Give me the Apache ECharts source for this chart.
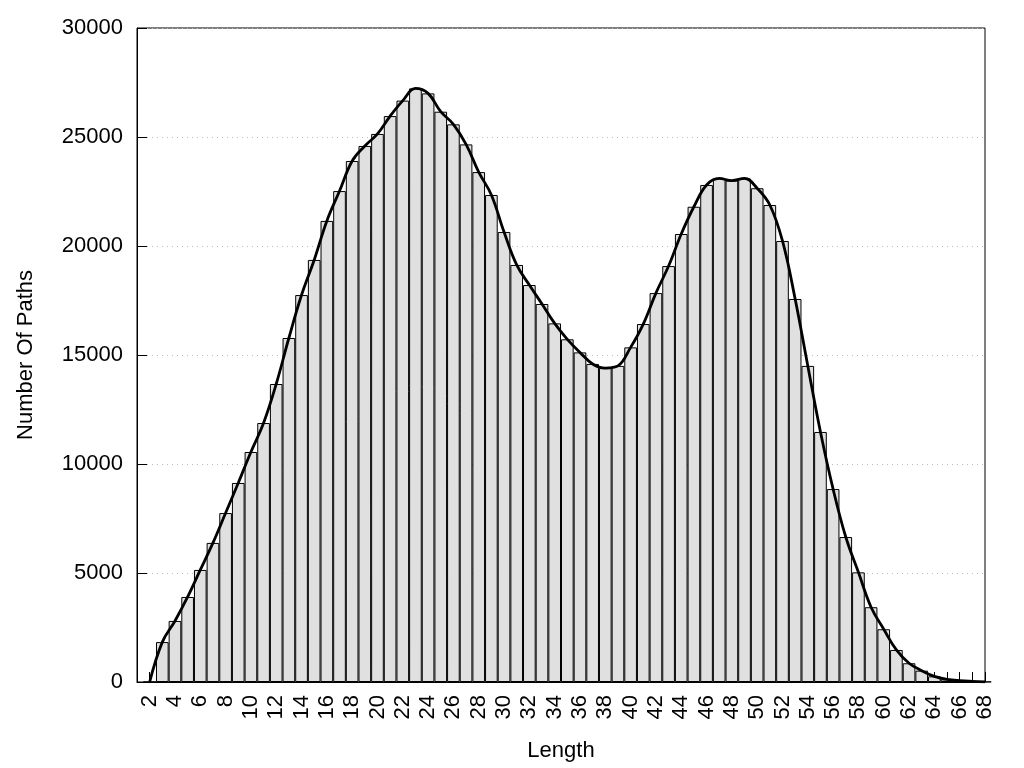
<!DOCTYPE html>
<html>
<head>
<meta charset="utf-8">
<script src="https://cdn.jsdelivr.net/npm/echarts@6/dist/echarts.min.js"></script>
<style>html,body{margin:0;padding:0;background:#fff}#c{width:1024px;height:768px}</style>
</head>
<body>
<div id="c"></div>
<script>
const lengths = [2,3,4,5,6,7,8,9,10,11,12,13,14,15,16,17,18,19,20,21,22,23,24,25,26,27,28,29,30,31,32,33,34,35,36,37,38,39,40,41,42,43,44,45,46,47,48,49,50,51,52,53,54,55,56,57,58,59,60,61,62,63,64,65,66,67,68];
const paths = [0,1830,2800,3900,5140,6380,7750,9130,10550,11880,13670,15780,17750,19360,21150,22520,23900,24590,25140,25960,26670,27230,27000,26160,25580,24660,23390,22340,20640,19130,18210,17340,16450,15720,15120,14590,14400,14500,15350,16420,17840,19080,20550,21800,22800,23100,23000,23100,22650,21880,20230,17570,14500,11470,8850,6650,5030,3430,2420,1470,860,520,260,120,60,30,10];
const xTickLabels = [2,4,6,8,10,12,14,16,18,20,22,24,26,28,30,32,34,36,38,40,42,44,46,48,50,52,54,56,58,60,62,64,66,68];
const yTickLabels = [0,5000,10000,15000,20000,25000,30000];

const pts = lengths.map((x,i)=>[x, paths[i]]);
const chart = echarts.init(document.getElementById('c'));
const gridLeft = 137, gridRight = 39;
const barW = (1024 - gridLeft - gridRight) / 67;
const font = 'Liberation Sans, Arial, sans-serif';
chart.setOption({
  animation: false,
  grid: {left: gridLeft, right: gridRight, top: 28, bottom: 86, show: true, borderColor: '#000', borderWidth: 1, backgroundColor: 'transparent'},
  xAxis: {
    type: 'value', min: 1, max: 68, interval: 1,
    name: 'Length', nameLocation: 'middle', nameGap: 58,
    nameTextStyle: {color: '#000', fontSize: 22, fontFamily: font},
    axisLine: {show: true, onZero: false, lineStyle: {color: '#000', width: 1}},
    axisTick: {show: true, inside: true, length: 10, lineStyle: {color: '#000'}},
    axisLabel: {
      rotate: 90, margin: 13, color: '#000', fontSize: 22, fontFamily: font,
      formatter: v => xTickLabels.includes(v) ? String(v) : ''
    },
    splitLine: {show: false}
  },
  yAxis: {
    type: 'value', min: 0, max: 30000, interval: 5000,
    name: 'Number Of Paths', nameLocation: 'middle', nameGap: 100,
    nameTextStyle: {color: '#000', fontSize: 22, fontFamily: font},
    axisLine: {show: true, lineStyle: {color: '#000', width: 1}},
    axisTick: {show: true, inside: true, length: 10, lineStyle: {color: '#000'}},
    axisLabel: {margin: 14, color: '#000', fontSize: 22, fontFamily: font,
      formatter: v => yTickLabels.includes(v) ? String(v) : ''},
    splitLine: {show: true, lineStyle: {color: '#bbb', type: [1, 4], width: 1}}
  },
  series: [
    {
      type: 'bar', data: pts, barWidth: barW, barGap: '-100%',
      itemStyle: {color: '#e0e0e0', borderColor: '#000', borderWidth: 1},
      z: 2
    },
    {
      type: 'line', data: pts, smooth: 0.4, showSymbol: false, symbol: 'none',
      lineStyle: {color: '#000', width: 2.8},
      z: 3
    }
  ]
});
</script>
</body>
</html>
